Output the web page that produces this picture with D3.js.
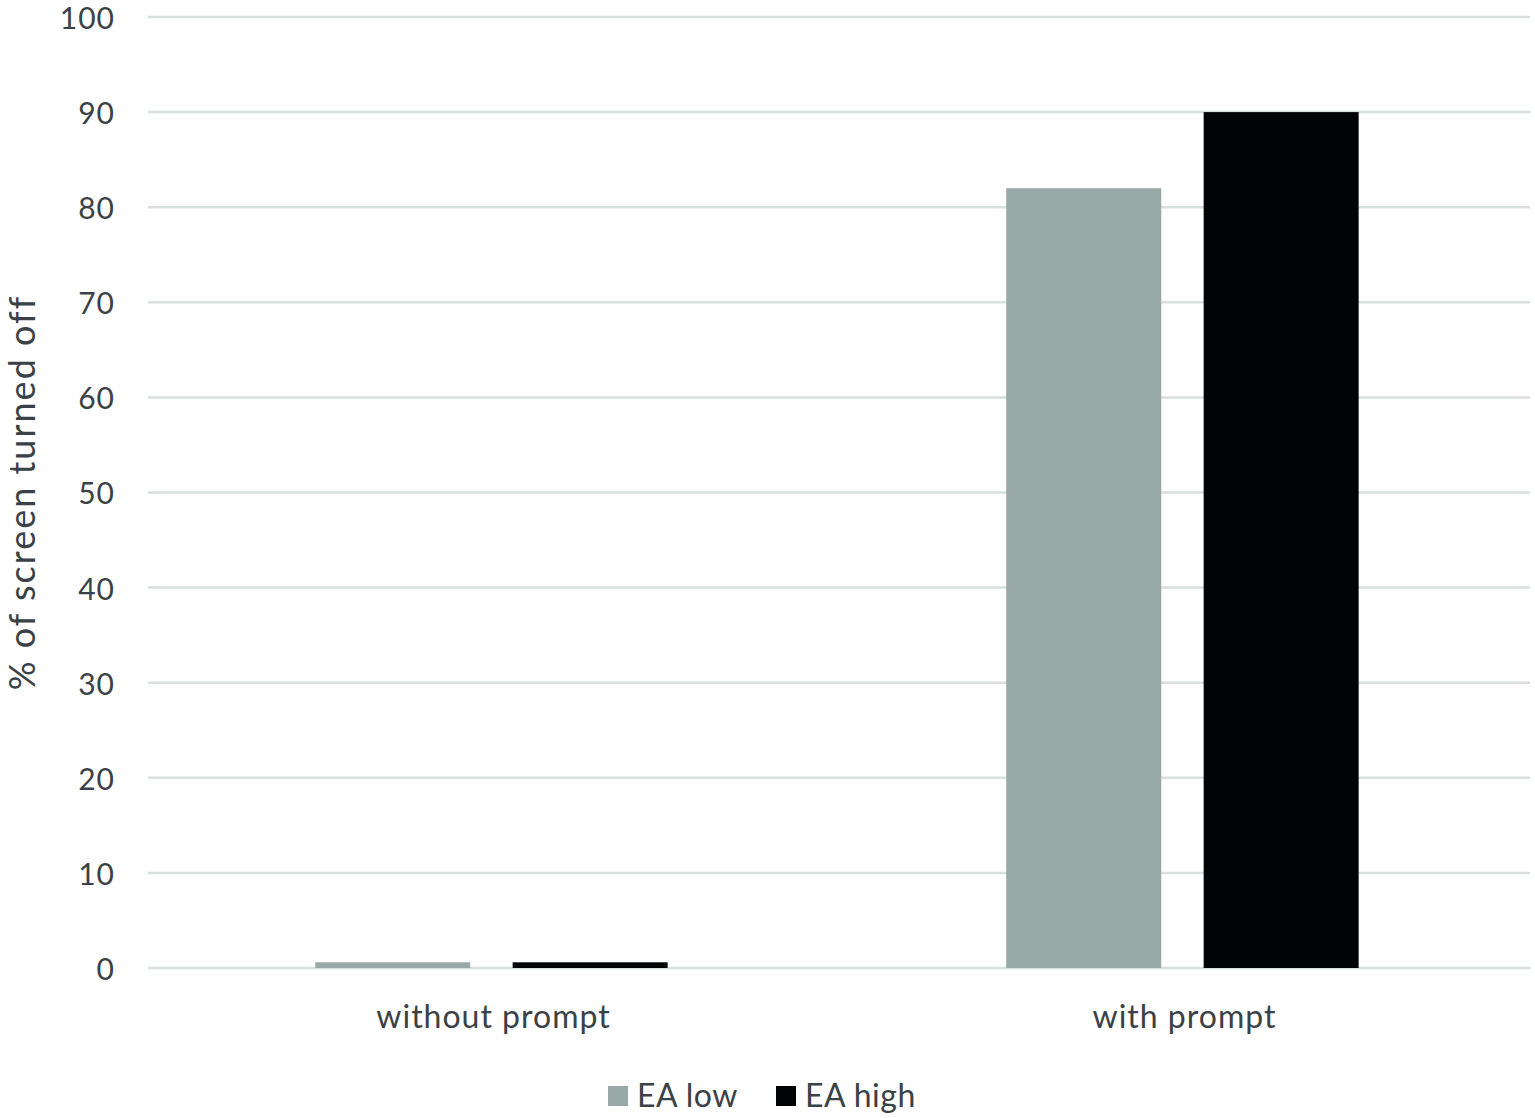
<!DOCTYPE html>
<html>
<head>
<meta charset="utf-8">
<script src="https://cdnjs.cloudflare.com/ajax/libs/d3/7.8.5/d3.min.js"></script>
<style>
  body { margin: 0; background: #fff; }
  text { font-family: Lato, "Open Sans", sans-serif; fill: #3a4247; }
</style>
</head>
<body>
<div id="chart"></div>
<script>
// data
const categories = ["without prompt", "with prompt"];
const series = ["EA low", "EA high"];
const eaLow = [0.6, 82];
const eaHigh = [0.6, 90];
const yTicks = [0, 10, 20, 30, 40, 50, 60, 70, 80, 90, 100];
const colors = ["#97a8a6", "#020304"];

const width = 1535, height = 1118;
const margin = {top: 17, right: 5, bottom: 150, left: 148};

const svg = d3.select("#chart").append("svg")
    .attr("width", width)
    .attr("height", height);

const plotW = width - margin.left - margin.right;
const plotH = height - margin.top - margin.bottom;

const g = svg.append("g")
    .attr("transform", `translate(${margin.left},${margin.top})`);

const y = d3.scaleLinear().domain([0, 100]).range([plotH, 0]);

const x0 = d3.scaleBand().domain(categories).range([0, plotW]);
const bw = x0.bandwidth();
const x1 = d3.scaleBand().domain(series)
    .range([bw * 0.242, bw * 0.752])
    .paddingInner(0.215);

// gridlines
g.append("g")
    .selectAll("line")
    .data(yTicks)
    .enter().append("line")
    .attr("x1", 0)
    .attr("x2", plotW)
    .attr("y1", d => y(d))
    .attr("y2", d => y(d))
    .attr("stroke", "#d9dfdd")
    .attr("stroke-width", 2.5);

// y tick labels
const yAxis = g.append("g")
    .call(d3.axisLeft(y).tickValues(yTicks).tickSize(0).tickPadding(33));
yAxis.select(".domain").remove();
yAxis.selectAll("text")
    .style("font-size", "30px")
    .style("letter-spacing", "1px")
    .attr("dy", "0.38em")
    .attr("fill", "#3a4247");

// bars
const rows = categories.map((c, i) => ({cat: c, vals: [eaLow[i], eaHigh[i]]}));
const groups = g.selectAll(".grp")
    .data(rows)
    .enter().append("g")
    .attr("class", "grp")
    .attr("transform", d => `translate(${x0(d.cat)},0)`);

groups.selectAll("rect")
    .data(d => d.vals.map((v, i) => ({s: series[i], v: v, i: i})))
    .enter().append("rect")
    .attr("x", d => x1(d.s))
    .attr("width", x1.bandwidth())
    .attr("y", d => y(d.v))
    .attr("height", d => y(0) - y(d.v))
    .attr("fill", d => colors[d.i]);

// category labels
const xAxis = g.append("g")
    .attr("transform", `translate(0,${plotH})`)
    .call(d3.axisBottom(x0).tickSize(0).tickPadding(37));
xAxis.select(".domain").remove();
xAxis.selectAll("text")
    .style("font-size", "32px")
    .style("letter-spacing", "1px")
    .attr("fill", "#3a4247");

// y axis title
svg.append("text")
    .attr("transform", `translate(35,${margin.top + plotH / 2}) rotate(-90)`)
    .attr("text-anchor", "middle")
    .style("font-size", "36px")
    .style("letter-spacing", "2px")
    .text("% of screen turned off");

// legend
const legend = svg.append("g").attr("transform", "translate(608,1086)");
const item = legend.selectAll("g")
    .data(series)
    .enter().append("g")
    .attr("transform", (d, i) => `translate(${i * 168},0)`);
item.append("rect")
    .attr("width", 20)
    .attr("height", 20)
    .attr("fill", (d, i) => colors[i]);
item.append("text")
    .attr("x", 29)
    .attr("y", 21)
    .style("font-size", "32px")
    .style("letter-spacing", "0.5px")
    .text(d => d);
</script>
</body>
</html>
